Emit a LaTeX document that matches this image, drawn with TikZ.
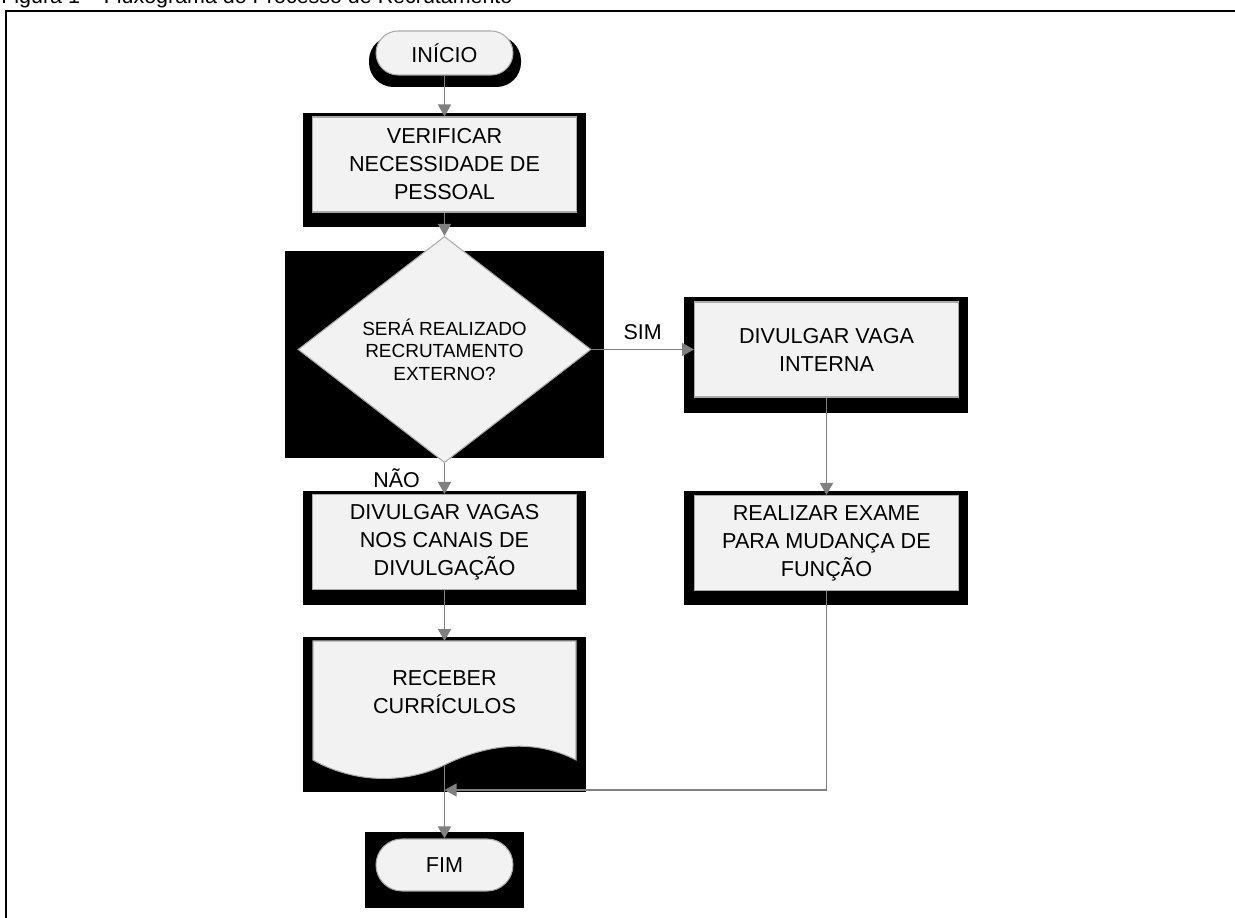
\documentclass[tikz,border=0pt]{standalone}
\usepackage{fontspec}
\setmainfont{Liberation Sans}
\usetikzlibrary{shapes.geometric,arrows.meta}

\definecolor{caixa}{RGB}{242,242,242}
\definecolor{borda}{RGB}{170,170,170}
\definecolor{cinzaseta}{RGB}{128,128,128}

\begin{document}
\begin{tikzpicture}[x=0.02cm, y=-0.02cm,
  processo/.style={rectangle, draw=borda, fill=caixa, line width=0.6pt, minimum width=5.28cm, minimum height=1.9cm, inner sep=0pt, align=center, font=\fontsize{12.3}{15.9}\selectfont},
  terminal/.style={rectangle, rounded corners=0.44cm, draw=borda, fill=caixa, line width=0.6pt, minimum width=2.74cm, minimum height=0.88cm, inner sep=0pt, font=\fontsize{12.3}{15.9}\selectfont},
  decisao/.style={diamond, draw=borda, fill=caixa, line width=0.6pt, minimum width=5.86cm, minimum height=3.7cm, inner sep=0pt, align=center, font=\fontsize{10.8}{12.8}\selectfont},
  sombra/.style={fill=black},
  fluxo/.style={draw=cinzaseta, line width=0.9pt, -{Triangle[width=0.26cm,length=0.24cm]}},
  rotulo/.style={font=\fontsize{12.2}{14}\selectfont}]
  \useasboundingbox (0,0) rectangle (1235,918);
  \clip (0,0) rectangle (1235,918);
  % titulo e moldura
  \node[rotulo, anchor=base west, inner sep=0pt] (titulo) at (1,4) {Figura 1 -- Fluxograma do Processo de Recrutamento};
  \draw[line width=1.1pt] (6,918) -- (6,11) -- (1235,11);
  % sombras pretas
  \fill[sombra, rounded corners=0.49cm] (369,36) rectangle (521,87);
  \fill[sombra] (303,113) rectangle (586,227);
  \fill[sombra] (285,251) rectangle (604,458);
  \fill[sombra] (684,297) rectangle (968,413);
  \fill[sombra] (303,491) rectangle (586,605);
  \fill[sombra] (684,491) rectangle (968,605);
  \fill[sombra] (303,637) rectangle (586,792);
  \fill[sombra] (365,832) rectangle (524,908);
  % etapas
  \node[terminal] (inicio) at (444.5,53) {INÍCIO};
  \node[processo] (verificar) at (444.5,164.5) {VERIFICAR\\NECESSIDADE DE\\PESSOAL};
  \node[decisao] (externo) at (444.5,349.5) {SERÁ REALIZADO\\RECRUTAMENTO\\EXTERNO?};
  \node[processo] (interna) at (826.5,349.5) {DIVULGAR VAGA\\INTERNA};
  \node[processo] (exame) at (826.5,543) {REALIZAR EXAME\\PARA MUDANÇA DE\\FUNÇÃO};
  \node[processo] (vagas) at (444.5,542) {DIVULGAR VAGAS\\NOS CANAIS DE\\DIVULGAÇÃO};
  \filldraw[fill=caixa, draw=borda, line width=0.6pt] (313,641) -- (576,641) -- (576,760)
    .. controls (530,736) and (480,747) .. (444.5,765)
    .. controls (400,786) and (350,781) .. (313,760) -- cycle;
  \node[align=center, font=\fontsize{12.3}{15.9}\selectfont] (receber) at (444.5,692.5) {RECEBER\\CURRÍCULOS};
  \coordinate (rectopo) at (444.5,641);
  \coordinate (recbase) at (444.5,765);
  \node[terminal, minimum height=1.04cm, rounded corners=0.52cm] (fim) at (444.5,865) {FIM};
  \coordinate (juncao) at (444.5,790);
  % ligacoes
  \draw[fluxo] (inicio) -- (verificar);
  \draw[fluxo] (verificar) -- (externo);
  \draw[fluxo] (externo) -- node[rotulo, above=2pt] {SIM} (interna);
  \draw[fluxo] (externo) -- node[rotulo, left=0.36cm] {NÃO} (vagas);
  \draw[fluxo] (interna) -- (exame);
  \draw[fluxo] (vagas) -- (rectopo);
  \draw[fluxo] (recbase) -- (fim);
  \draw[fluxo, line width=0.6pt] (exame) |- (juncao);
\end{tikzpicture}
\end{document}
